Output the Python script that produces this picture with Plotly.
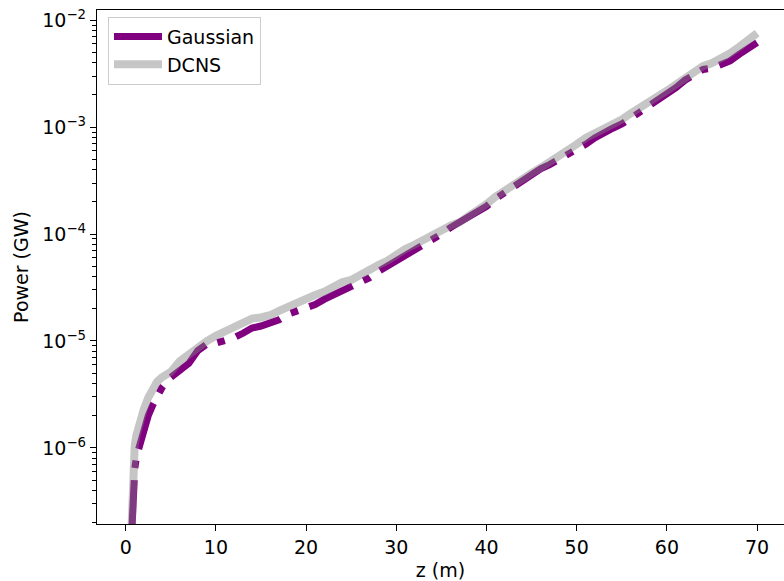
import plotly.graph_objects as go

# Propagation distance (m) and radiated power (GW) for the two seed cases
z_dcns = [0.65, 0.75, 0.85, 1.0, 1.2, 1.5, 2.0, 2.5, 3.0, 3.5, 4, 5, 6, 7, 8, 9,
          10, 11, 12, 13, 14, 15, 16, 17, 18, 19, 20, 21, 22, 23, 24, 25, 26, 27,
          28, 29, 30, 31, 32, 33, 34, 35, 36, 37, 38, 39, 40, 41, 42, 43, 44, 45,
          46, 47, 48, 49, 50, 51, 52, 53, 54, 55, 56, 57, 58, 59, 60, 61, 62, 63,
          64, 65, 66, 67, 68, 69, 70]
p_dcns = [1.78e-7, 4.47e-7, 8.32e-7, 1.05e-6, 1.32e-6, 1.70e-6, 2.29e-6, 2.95e-6,
          3.63e-6, 4.17e-6, 4.57e-6, 5.13e-6, 6.46e-6, 7.59e-6, 8.91e-6, 1.00e-5,
          1.12e-5, 1.23e-5, 1.38e-5, 1.51e-5, 1.62e-5, 1.66e-5, 1.74e-5, 1.91e-5,
          2.09e-5, 2.34e-5, 2.51e-5, 2.69e-5, 2.88e-5, 3.24e-5, 3.55e-5, 3.72e-5,
          4.17e-5, 4.79e-5, 5.13e-5, 5.62e-5, 6.46e-5, 7.24e-5, 7.94e-5, 8.91e-5,
          1.00e-4, 1.10e-4, 1.20e-4, 1.29e-4, 1.45e-4, 1.66e-4, 1.91e-4, 2.24e-4,
          2.57e-4, 2.95e-4, 3.31e-4, 3.72e-4, 4.17e-4, 4.68e-4, 5.25e-4, 6.03e-4,
          6.92e-4, 7.94e-4, 8.71e-4, 9.55e-4, 1.05e-3, 1.18e-3, 1.35e-3, 1.51e-3,
          1.70e-3, 1.91e-3, 2.19e-3, 2.51e-3, 2.88e-3, 3.31e-3, 3.72e-3, 3.98e-3,
          4.37e-3, 4.90e-3, 5.62e-3, 6.61e-3, 7.59e-3]

z_gauss = [0.7, 0.8, 0.9, 1.0, 1.2, 1.4, 1.8, 2.5, 3.0, 3.5, 4, 5, 6, 7, 8, 9,
           10, 11, 12, 13, 14, 15, 16, 17, 18, 19, 20, 21, 22, 23, 24, 25, 26, 27,
           28, 29, 30, 31, 32, 33, 34, 35, 36, 37, 38, 39, 40, 41, 42, 43, 44, 45,
           46, 47, 48, 49, 50, 51, 52, 53, 54, 55, 56, 57, 58, 59, 60, 61, 62, 63,
           64, 65, 66, 67, 68, 69, 70]
p_gauss = [1.78e-7, 3.55e-7, 5.01e-7, 6.31e-7, 8.32e-7, 9.55e-7, 1.32e-6, 2.00e-6,
           2.51e-6, 3.02e-6, 3.63e-6, 4.57e-6, 5.25e-6, 6.17e-6, 8.13e-6, 9.33e-6,
           9.55e-6, 1.00e-5, 1.07e-5, 1.18e-5, 1.32e-5, 1.38e-5, 1.48e-5, 1.58e-5,
           1.78e-5, 1.91e-5, 2.04e-5, 2.19e-5, 2.45e-5, 2.69e-5, 2.95e-5, 3.24e-5,
           3.47e-5, 3.89e-5, 4.47e-5, 5.01e-5, 5.50e-5, 6.17e-5, 7.08e-5, 7.94e-5,
           8.91e-5, 1.00e-4, 1.15e-4, 1.29e-4, 1.45e-4, 1.62e-4, 1.82e-4, 2.14e-4,
           2.45e-4, 2.82e-4, 3.16e-4, 3.72e-4, 4.07e-4, 4.47e-4, 5.01e-4, 5.50e-4,
           6.03e-4, 6.92e-4, 7.94e-4, 8.91e-4, 9.77e-4, 1.07e-3, 1.20e-3, 1.38e-3,
           1.58e-3, 1.78e-3, 2.04e-3, 2.34e-3, 2.75e-3, 3.16e-3, 3.47e-3, 3.55e-3,
           3.80e-3, 4.17e-3, 4.79e-3, 5.50e-3, 6.17e-3]

x_ticks = [0, 10, 20, 30, 40, 50, 60, 70]
y_ticks = [1e-6, 1e-5, 1e-4, 1e-3, 1e-2]
y_ticktext = ["10<sup>\u22126</sup>", "10<sup>\u22125</sup>", "10<sup>\u22124</sup>",
              "10<sup>\u22123</sup>", "10<sup>\u22122</sup>"]
y_minor = [m * 10.0 ** e for e in range(-7, -1) for m in range(2, 10)]

FONT = "DejaVu Sans"

fig = go.Figure()
fig.add_trace(go.Scatter(
    x=z_gauss, y=p_gauss, name="Gaussian", mode="lines",
    line=dict(color="#800080", width=7, dash="48px,12px,7.6px,12px"),
))
fig.add_trace(go.Scatter(
    x=z_dcns, y=p_dcns, name="DCNS", mode="lines",
    line=dict(color="rgba(128,128,128,0.45)", width=8),
))

fig.update_layout(
    width=784, height=581,
    margin=dict(l=97, r=0, t=10, b=57),
    paper_bgcolor="white", plot_bgcolor="white",
    font=dict(family=FONT, size=19, color="black"),
    showlegend=True,
    legend=dict(
        x=0.016, y=0.987, xanchor="left", yanchor="top",
        bgcolor="rgba(255,255,255,0.8)", bordercolor="#cccccc", borderwidth=1,
        font=dict(family=FONT, size=19, color="black"),
        tracegroupgap=0, itemwidth=48,
    ),
)

fig.update_xaxes(
    range=[-3.18, 72.98], tickmode="array", tickvals=x_ticks,
    ticks="outside", ticklen=6, tickwidth=1.3, tickcolor="black",
    showline=True, linecolor="black", linewidth=1.3, mirror=True,
    showgrid=False, zeroline=False,
    title=dict(text="z (m)", standoff=10, font=dict(family=FONT, size=19)),
)
fig.update_yaxes(
    type="log", range=[-6.712, -1.904], tickmode="array",
    tickvals=y_ticks, ticktext=y_ticktext,
    ticks="outside", ticklen=6, tickwidth=1.3, tickcolor="black",
    minor=dict(tickmode="array", tickvals=y_minor, ticks="outside",
               ticklen=3.5, tickwidth=1, tickcolor="black", showgrid=False),
    showline=True, linecolor="black", linewidth=1.3, mirror=False,
    showgrid=False, zeroline=False,
    title=dict(text="Power (GW)", standoff=8, font=dict(family=FONT, size=19)),
)

fig.write_html("out.html")
